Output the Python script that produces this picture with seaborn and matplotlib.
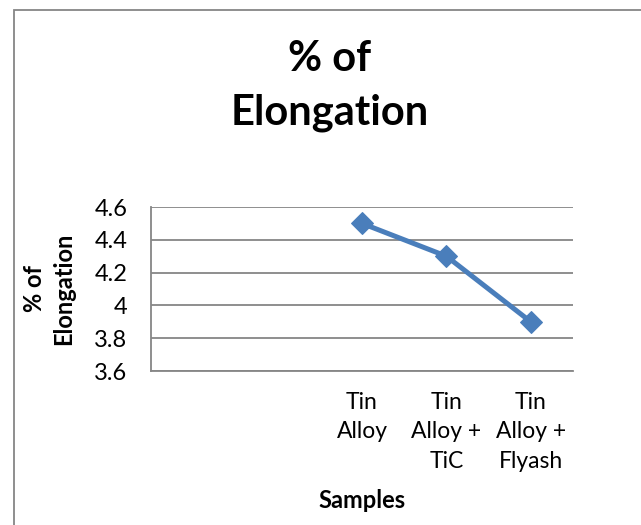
import numpy as np
import pandas as pd
import matplotlib
matplotlib.use("Agg")
import matplotlib.pyplot as plt
import seaborn as sns
from matplotlib.patches import Rectangle
from matplotlib.ticker import FixedLocator

categories = ["", "", "Tin\nAlloy", "Tin\nAlloy +\nTiC", "Tin\nAlloy +\nFlyash"]
values = [np.nan, np.nan, 4.5, 4.3, 3.9]
y_ticks = [3.6, 3.8, 4.0, 4.2, 4.4, 4.6]
y_tick_labels = ["3.6", "3.8", "4", "4.2", "4.4", "4.6"]

sns.set_theme(style="white")
plt.rcParams['font.family'] = ['Lato', 'DejaVu Sans']
plt.rcParams['text.color'] = 'black'

df = pd.DataFrame({"pos": np.arange(len(categories)), "val": values})

fig = plt.figure(figsize=(6.41, 5.25), dpi=100)
ax = fig.add_axes([151/641, 1-371/525, (573-151)/641, (371-207)/525])

grid_c = "#868686"
sns.lineplot(data=df, x="pos", y="val", ax=ax, color="#4A7EBB", linewidth=3.6,
             marker="D", markersize=11, markeredgecolor="#4A7EBB")

ax.set_xlim(-0.5, len(categories) - 0.5)
ax.set_ylim(3.6, 4.6)
ax.set_yticks(y_ticks)
ax.set_yticklabels(y_tick_labels, fontsize=17, color="black")
ax.yaxis.grid(True, color=grid_c, linewidth=1.3)
ax.set_axisbelow(True)

ax.set_xticks(np.arange(len(categories)))
ax.set_xticklabels(categories, fontsize=16.5, linespacing=1.5, va="top", color="black")
ax.xaxis.set_minor_locator(FixedLocator(np.arange(len(categories) + 1) - 0.5))
ax.tick_params(axis="x", which="major", length=0, pad=15)
ax.tick_params(axis="x", which="minor", length=6, width=1.3, color=grid_c, direction="out")
ax.tick_params(axis="y", length=6, width=1.3, color=grid_c, direction="out", pad=11)

for s in ["top", "right"]:
    ax.spines[s].set_visible(False)
for s in ["left", "bottom"]:
    ax.spines[s].set_color(grid_c)
    ax.spines[s].set_linewidth(1.3)

ax.set_xlabel("")
ax.set_ylabel("")
fig.text(362/641, 1-500/525, "Samples", ha="center", va="center", fontsize=17,
         fontweight="bold", color="black")
fig.text(49/641, 1-289/525, "% of\nElongation", ha="center", va="center", rotation=90,
         fontsize=17, fontweight="bold", linespacing=1.3, color="black")
fig.text(330/641, 1-86/525, "% of\nElongation", ha="center", va="center",
         fontsize=30, fontweight="bold", linespacing=1.47, color="black")

fig.patches.append(Rectangle((14/641, -0.05), 1.2, 1.05 - 10/525, transform=fig.transFigure,
                             fill=False, edgecolor="#868686", linewidth=1.3))

fig.savefig("out.png", dpi=100)
